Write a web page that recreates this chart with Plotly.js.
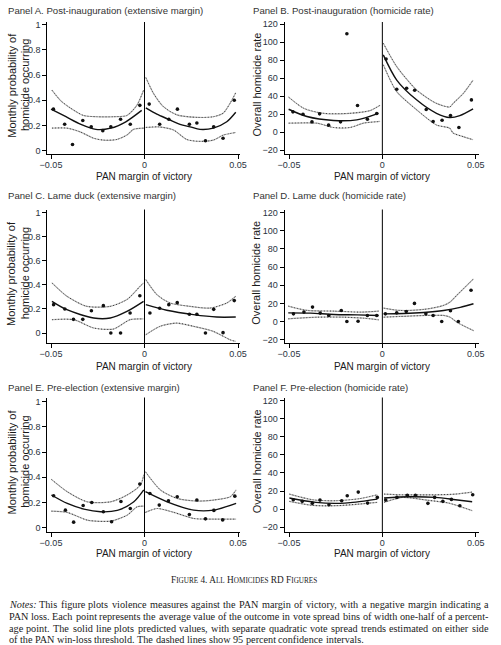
<!DOCTYPE html>
<html><head><meta charset="utf-8">
<script src="https://cdn.plot.ly/plotly-3.0.1.min.js"></script>
<style>html,body{margin:0;padding:0;background:#fff}#chart{width:501px;height:645px}</style>
</head><body><div id="chart"></div>
<script>
// ---------- DATA ----------
const xTickVals = [-0.05, 0, 0.05];
const xTickText = ['\u22120.05', '0', '0.05'];
const probTickVals = [0, 0.2, 0.4, 0.6, 0.8, 1];
const probTickText = ['0', '0.2', '0.4', '0.6', '0.8', '1'];
const rateTickVals = [-20, 0, 20, 40, 60, 80, 100, 120];
const rateTickText = ['\u221220', '0', '20', '40', '60', '80', '100', '120'];

const panelTitles = [
  'Panel A. Post-inauguration (extensive margin)',
  'Panel B. Post-inauguration (homicide rate)',
  'Panel C. Lame duck (extensive margin)',
  'Panel D. Lame duck (homicide rate)',
  'Panel E. Pre-election (extensive margin)',
  'Panel F. Pre-election (homicide rate)'
];
const probTitleLines = ['Monthly probability of', 'homicide occurring'];
const rateTitle = 'Overall homicide rate';
const xTitle = 'PAN margin of victory';

// Panel A
const A_ptX = [-0.0487,-0.0427,-0.0385,-0.033,-0.0285,-0.0223,-0.018,-0.0128,-0.0076,-0.0025, 0.0025,0.0081,0.013,0.0176,0.024,0.028,0.0326,0.037,0.042,0.048];
const A_ptY = [0.33,0.21,0.05,0.24,0.19,0.16,0.19,0.25,0.21,0.36, 0.37,0.21,0.25,0.33,0.21,0.22,0.08,0.19,0.10,0.40];
const A_fitX = [-0.05,-0.042,-0.034,-0.026,-0.018,-0.01,-0.0015, null, 0.0007,0.0066,0.0128,0.019,0.0244,0.0297,0.0368,0.044,0.0488];
const A_fitY = [0.33,0.27,0.21,0.17,0.18,0.23,0.32, null, 0.34,0.29,0.25,0.21,0.19,0.17,0.18,0.23,0.305];
const A_upX = [-0.0495,-0.045,-0.0397,-0.0326,-0.0255,-0.0166,-0.0094,-0.0041,-0.0005, null, 0.0007,0.0048,0.0101,0.0173,0.028,0.0368,0.0422,0.0457,0.0488];
const A_upY = [0.48,0.40,0.34,0.28,0.27,0.27,0.28,0.36,0.48, null, 0.58,0.455,0.35,0.285,0.265,0.27,0.30,0.375,0.46];
const A_loX = [-0.0495,-0.0415,-0.0344,-0.0272,-0.0219,-0.0148,-0.0094,-0.0059,-0.0005, null, 0.0007,0.0075,0.0155,0.0226,0.0297,0.0368,0.0422,0.0488];
const A_loY = [0.18,0.18,0.15,0.10,0.085,0.09,0.125,0.17,0.18, null, 0.185,0.19,0.165,0.09,0.075,0.085,0.125,0.145];

// Panel B
const B_ptX = [-0.0479,-0.0425,-0.0377,-0.0336,-0.0288,-0.0224,-0.019,-0.0133,-0.008,-0.003, 0.002,0.0077,0.013,0.0173,0.0235,0.0272,0.032,0.0365,0.041,0.0477];
const B_ptY = [22.6,20,11.5,20.4,7.8,11.5,109.6,29.6,14.4,20.7, 81.5,47.8,48.9,46.7,25.2,11.9,13.3,18.5,5.2,35.9];
const B_fitX = [-0.0502,-0.0404,-0.0262,-0.0137,-0.0021, null, 0.0005,0.0077,0.0183,0.029,0.0361,0.0415,0.0486];
const B_fitY = [25.5,17.4,13,13.7,21, null, 86,58,36,21,16.3,18.5,26];
const B_upX = [-0.0502,-0.0422,-0.0315,-0.0173,-0.0066,-0.0012, null, 0.0005,0.0077,0.0183,0.029,0.0361,0.0379,0.0433,0.0486];
const B_upY = [39,26.7,21,21,24,30, null, 99,73,47,32,28,32,43,58];
const B_loX = [-0.0502,-0.0351,-0.0262,-0.0173,-0.0101,-0.0012, null, 0.0005,0.0077,0.0183,0.029,0.0361,0.0379,0.0433,0.0486];
const B_loY = [10,10,5.2,5.2,10,11.9, null, 75,45,25,8,4.4,-1,-5,-8.5];

// Panel C
const C_ptX = [-0.0486,-0.0426,-0.038,-0.033,-0.0284,-0.022,-0.018,-0.0128,-0.0077,-0.0025, 0.0029,0.0081,0.013,0.0175,0.024,0.028,0.0326,0.037,0.042,0.048];
const C_ptY = [0.236,0.2,0.114,0.114,0.186,0.228,0,0,0.167,0.31, 0.167,0.206,0.236,0.253,0.156,0.156,0,0.197,0.003,0.27];
const C_fitX = [-0.0495,-0.0415,-0.0272,-0.0183,-0.0094,-0.0005, null, 0.0007,0.0119,0.0262,0.0386,0.0488];
const C_fitY = [0.264,0.194,0.125,0.125,0.18,0.264, null, 0.236,0.19,0.153,0.133,0.133];
const C_upX = [-0.0495,-0.0415,-0.0308,-0.0183,-0.0094,-0.0023,-0.0005, null, 0.0007,0.0066,0.0137,0.0244,0.0351,0.044,0.0488];
const C_upY = [0.417,0.306,0.222,0.222,0.278,0.39,0.417, null, 0.444,0.32,0.25,0.222,0.208,0.25,0.306];
const C_loX = [-0.0495,-0.0379,-0.0272,-0.0166,-0.0077,-0.0005, null, 0.0007,0.0084,0.0173,0.0262,0.0368,0.0457,0.0488];
const C_loY = [0.111,0.111,0.042,0.033,0.111,0.117, null, -0.014,0.056,0.083,0.056,0.014,-0.056,-0.07];

// Panel D
const D_ptX = [-0.0476,-0.042,-0.0374,-0.0333,-0.0287,-0.022,-0.019,-0.013,-0.008,-0.003, 0.0016,0.0077,0.0128,0.0172,0.0233,0.0272,0.0318,0.0365,0.0407,0.0475];
const D_ptY = [8.5,10.4,15.9,9.3,6.7,12.2,0,0.4,6.7,6.7, 8.5,9.6,11.1,20,8.5,6.7,0,11.9,0,34.4];
const D_fitX = [-0.0504,-0.0385,-0.026,-0.0135,-0.002, null, 0.0007,0.0114,0.0221,0.0328,0.0417,0.0488];
const D_fitY = [9.6,9.3,7.8,7.4,6.7, null, 8.5,8.9,10,12.2,15.6,19.6];
const D_upX = [-0.0504,-0.0402,-0.026,-0.0117,-0.002, null, 0.0007,0.0096,0.0221,0.0328,0.0363,0.0399,0.0488];
const D_upY = [17,12.2,11.5,10.4,11.5, null, 14.8,12.2,13.3,17.8,21.5,29,47];
const D_loX = [-0.0504,-0.0349,-0.0206,-0.01,-0.002, null, 0.0007,0.0096,0.0239,0.0328,0.0363,0.0399,0.0488];
const D_loY = [3,4.8,4.8,3.7,1.9, null, 4.8,5.6,6.7,6.7,4.8,-0.7,-10];

// Panel E
const E_ptX = [-0.0486,-0.0423,-0.0379,-0.0328,-0.0282,-0.022,-0.0176,-0.0126,-0.0076,-0.0025, 0.0029,0.0079,0.0128,0.0175,0.024,0.028,0.0326,0.0371,0.0418,0.0483];
const E_ptY = [0.254,0.14,0.045,0.177,0.2,0.127,0.048,0.209,0.153,0.347, 0.272,0.18,0.214,0.246,0.106,0.22,0.071,0.138,0.063,0.251];
const E_fitX = [-0.0498,-0.0413,-0.0324,-0.0235,-0.0146,-0.0057,-0.0004, null, 0.0005,0.0121,0.0263,0.037,0.049];
const E_fitY = [0.26,0.193,0.148,0.127,0.138,0.206,0.3, null, 0.286,0.206,0.14,0.14,0.193];
const E_upX = [-0.0498,-0.0413,-0.0306,-0.0182,-0.0093,-0.0021,-0.0004, null, 0.0005,0.0085,0.0174,0.0281,0.037,0.0459,0.049];
const E_upY = [0.384,0.286,0.206,0.206,0.26,0.34,0.42, null, 0.444,0.3,0.233,0.212,0.22,0.246,0.3];
const E_loX = [-0.0498,-0.0413,-0.0306,-0.0182,-0.0093,-0.0039,-0.0004, null, 0.0005,0.0068,0.0157,0.0263,0.037,0.049];
const E_loY = [0.132,0.122,0.061,0.053,0.1,0.167,0.172, null, 0.122,0.153,0.122,0.074,0.069,0.069];

// Panel F
const F_ptX = [-0.0477,-0.0429,-0.0375,-0.0334,-0.0286,-0.0218,-0.0188,-0.0129,-0.0079,-0.0027, 0.0018,0.0078,0.0134,0.0177,0.0244,0.028,0.0324,0.037,0.0415,0.0484];
const F_ptY = [10.3,8.5,6.3,9.9,4.8,9.2,14.7,18.8,6.6,12.9, 9.9,12.9,15.1,15.1,6.3,12.9,8.5,10.7,3.7,15.8];
const F_fitX = [-0.0498,-0.0356,-0.0249,-0.0142,-0.0027, null, 0.0009,0.0142,0.0285,0.0392,0.0481];
const F_fitY = [12.2,7.4,6.3,7.7,11, null, 12.2,13.6,12.9,10.3,8.1];
const F_upX = [-0.0498,-0.0374,-0.0249,-0.0125,-0.0027, null, 0.0009,0.0107,0.0285,0.0392,0.0481];
const F_upY = [16.6,10.3,9.2,11.4,15.8, null, 16.6,15.8,15.8,16.6,18.8];
const F_loX = [-0.0498,-0.0374,-0.0249,-0.0125,-0.0027, null, 0.0009,0.0107,0.0249,0.0356,0.0481];
const F_loY = [8.5,4,3.7,5.5,7.4, null, 7.4,12.9,9.6,6.6,-1.8];

const figTitle = 'F<span style="font-size:7.2px">IGURE</span> 4. A<span style="font-size:7.2px">LL</span> H<span style="font-size:7.2px">OMICIDES</span> RD F<span style="font-size:7.2px">IGURES</span>';
const noteLines = [
  'Notes: This figure plots violence measures against the PAN margin of victory, with a negative margin indicating a',
  'PAN loss. Each point represents the average value of the outcome in vote spread bins of width one-half of a percent-',
  'age point. The solid line plots predicted values, with separate quadratic vote spread trends estimated on either side',
  'of the PAN win-loss threshold. The dashed lines show 95 percent confidence intervals.'
];

// ---------- LAYOUT HELPERS ----------
const W = 501, H = 645;
const fx = p => p / W;
const fy = p => 1 - p / H;
const SANS = 'Liberation Sans, Arial, sans-serif';
const SERIF = 'Liberation Serif, Times New Roman, serif';

const panels = [
  {ptX:A_ptX, ptY:A_ptY, fitX:A_fitX, fitY:A_fitY, upX:A_upX, upY:A_upY, loX:A_loX, loY:A_loY, col:0, row:0, yr:[-0.025,1.02], prob:true},
  {ptX:B_ptX, ptY:B_ptY, fitX:B_fitX, fitY:B_fitY, upX:B_upX, upY:B_upY, loX:B_loX, loY:B_loY, col:1, row:0, yr:[-24.3,122.6], prob:false},
  {ptX:C_ptX, ptY:C_ptY, fitX:C_fitX, fitY:C_fitY, upX:C_upX, upY:C_upY, loX:C_loX, loY:C_loY, col:0, row:1, yr:[-0.083,1.028], prob:true},
  {ptX:D_ptX, ptY:D_ptY, fitX:D_fitX, fitY:D_fitY, upX:D_upX, upY:D_upY, loX:D_loX, loY:D_loY, col:1, row:1, yr:[-23.6,123.3], prob:false},
  {ptX:E_ptX, ptY:E_ptY, fitX:E_fitX, fitY:E_fitY, upX:E_upX, upY:E_upY, loX:E_loX, loY:E_loY, col:0, row:2, yr:[-0.033,1.032], prob:true},
  {ptX:F_ptX, ptY:F_ptY, fitX:F_fitX, fitY:F_fitY, upX:F_upX, upY:F_upY, loX:F_loX, loY:F_loY, col:1, row:2, yr:[-25.5,123.8], prob:false}
];
const colPx = [[47.3, 240], [284.5, 478.5]];
const colRange = [[-0.05198, 0.05107], [-0.05241, 0.0515]];
const rowPx = [[22, 154], [209.5, 343], [397.5, 532]];
const titleY = [10, 195, 387.5];
const xTitleY = [176, 366, 553];

const traces = [];
const layout = {
  width: W, height: H,
  margin: {l:0, r:0, t:0, b:0},
  paper_bgcolor: '#fff', plot_bgcolor: '#fff',
  showlegend: false, hovermode: false,
  font: {family: SANS, color: '#222'},
  annotations: [], shapes: []
};

panels.forEach((p, i) => {
  const n = i + 1;
  const xa = 'x' + (n === 1 ? '' : n), ya = 'y' + (n === 1 ? '' : n);
  const common = {xaxis: xa, yaxis: ya, hoverinfo: 'skip', cliponaxis: false};
  const ciBase = {mode: 'lines', line: {color: '#b4b4b4', width: 1.2, shape: 'spline', smoothing: 0.7}};
  const ciDot = {mode: 'lines', line: {color: '#3a3a3a', width: 1, dash: '1px,2px', shape: 'spline', smoothing: 0.7}};
  traces.push(Object.assign({x: p.upX, y: p.upY}, common, ciBase));
  traces.push(Object.assign({x: p.upX, y: p.upY}, common, ciDot));
  traces.push(Object.assign({x: p.loX, y: p.loY}, common, ciBase));
  traces.push(Object.assign({x: p.loX, y: p.loY}, common, ciDot));
  traces.push(Object.assign({x: p.fitX, y: p.fitY, mode: 'lines', line: {color: '#111', width: 1.4, shape: 'spline', smoothing: 0.8}}, common));
  traces.push(Object.assign({x: p.ptX, y: p.ptY, mode: 'markers', marker: {color: '#111', size: 3.6, symbol: 'circle'}}, common));

  const cp = colPx[p.col], rp = rowPx[p.row];
  const axBase = {
    showline: true, linecolor: '#000', linewidth: 1, mirror: false,
    ticks: 'outside', ticklen: 4, tickwidth: 1, tickcolor: '#000',
    showgrid: false, zeroline: false, fixedrange: true,
    tickfont: {family: SANS, size: 9, color: '#2a3340'}
  };
  layout['xaxis' + (n === 1 ? '' : n)] = Object.assign({}, axBase, {
    domain: [fx(cp[0]), fx(cp[1])], range: colRange[p.col], anchor: ya,
    tickmode: 'array', tickvals: xTickVals, ticktext: xTickText,
    ticklabelstandoff: -2
  });
  layout['yaxis' + (n === 1 ? '' : n)] = Object.assign({}, axBase, {
    domain: [fy(rp[1]), fy(rp[0])], range: p.yr, anchor: xa,
    tickmode: 'array',
    tickvals: p.prob ? probTickVals : rateTickVals,
    ticktext: p.prob ? probTickText : rateTickText
  });
  // vertical cutoff line at 0
  layout.shapes.push({type: 'line', xref: xa, yref: ya + ' domain', x0: 0, x1: 0, y0: 0, y1: 1, line: {color: '#000', width: 1}});

  // panel title
  layout.annotations.push({xref: 'paper', yref: 'paper', x: fx(p.col === 0 ? 7 : 251.5), y: fy(titleY[p.row]),
    xanchor: 'left', yanchor: 'middle', showarrow: false, borderpad: 0,
    text: panelTitles[i], font: {family: SANS, size: 9.6, color: '#333'}});
  // y title(s)
  const yc = fy((rp[0] + rp[1]) / 2 - 3);
  if (p.prob) {
    [11.7, 25].forEach((px, k) => {
      layout.annotations.push({xref: 'paper', yref: 'paper', x: fx(px), y: yc,
        xanchor: 'center', yanchor: 'middle', showarrow: false, textangle: -90, borderpad: 0,
        text: probTitleLines[k], font: {family: SANS, size: 11, color: '#1a1a1a'}});
    });
  } else {
    layout.annotations.push({xref: 'paper', yref: 'paper', x: fx(256.5), y: yc,
      xanchor: 'center', yanchor: 'middle', showarrow: false, textangle: -90, borderpad: 0,
      text: rateTitle, font: {family: SANS, size: 11, color: '#1a1a1a'}});
  }
  // x title
  layout.annotations.push({xref: 'paper', yref: 'paper',
    x: fx((p.col === 0 ? 144.3 : 382.3)), y: fy(xTitleY[p.row]),
    xanchor: 'center', yanchor: 'middle', showarrow: false, borderpad: 0,
    text: xTitle, font: {family: SANS, size: 10, color: '#1a1a1a'}});
});

// Figure title
layout.annotations.push({xref: 'paper', yref: 'paper', x: fx(244), y: fy(579.5),
  xanchor: 'center', yanchor: 'middle', showarrow: false, borderpad: 0,
  text: figTitle, font: {family: SERIF, size: 9.3, color: '#222'}});

// Notes: justified by placing each word
(function () {
  const cv = document.createElement('canvas');
  const ctx = cv.getContext('2d');
  const fam = '"Liberation Serif"';
  const meas = (t, fs, it) => { ctx.font = (it ? 'italic ' : '') + fs + 'px ' + fam; return ctx.measureText(t).width; };
  const left = 9, right = 488.5;
  const lastW = 355;
  const fs = 10 * lastW / meas(noteLines[3], 10, false);
  const fsz = Math.min(10.3, Math.max(9.3, fs));
  const lineY = [604, 616.2, 628.2, 639.6];
  noteLines.forEach((line, li) => {
    const words = line.split(' ');
    const widths = words.map(w => meas(w, fsz, w === 'Notes:'));
    const total = widths.reduce((a, b) => a + b, 0);
    const justify = li < 3;
    const gap = justify ? (right - left - total) / (words.length - 1) : meas(' ', fsz, false);
    let x = left;
    words.forEach((w, wi) => {
      layout.annotations.push({xref: 'paper', yref: 'paper', x: fx(x), y: fy(lineY[li]),
        xanchor: 'left', yanchor: 'middle', showarrow: false, borderpad: 0, borderwidth: 0,
        text: w === 'Notes:' ? '<i>Notes:</i>' : w, font: {family: SERIF, size: fsz, color: '#1a1a1a'}});
      x += widths[wi] + gap;
    });
  });
})();

Plotly.newPlot('chart', traces, layout, {staticPlot: true, displayModeBar: false});
</script>
</body></html>
